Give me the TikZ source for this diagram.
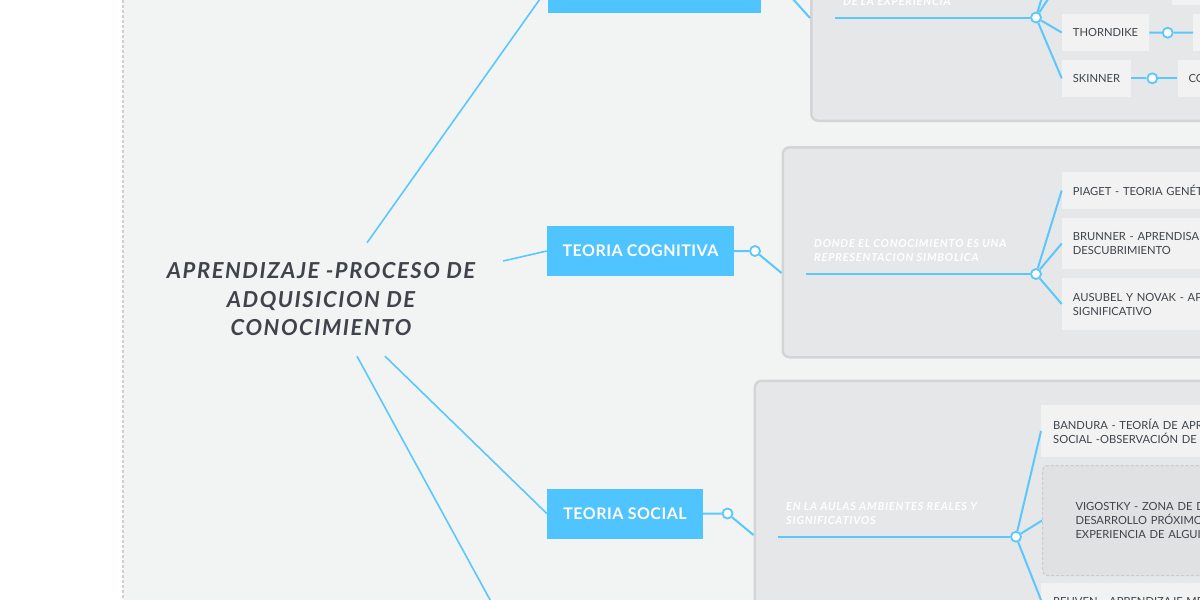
\documentclass[tikz,border=0pt]{standalone}
\usepackage{fontspec}
\setmainfont{Lato}
\newfontfamily\ideafont[LetterSpace=7]{Lato}
\newfontfamily\notefont[LetterSpace=7]{Lato}
\newfontfamily\topicfont[LetterSpace=3]{Lato}
\usepackage{xcolor}
\usepackage{tikz}
\usetikzlibrary{positioning,calc}

\definecolor{canvasbg}{HTML}{F2F4F4}
\definecolor{panelbg}{HTML}{E6E7E9}
\definecolor{panelrim}{HTML}{D2D4D6}
\definecolor{leafbg}{HTML}{F2F2F2}
\definecolor{topicblue}{HTML}{50C4FF}
\definecolor{linkblue}{HTML}{5AC8FC}
\definecolor{inktext}{HTML}{3E444A}
\definecolor{dashrim}{HTML}{C9CBCD}
\definecolor{vigbg}{HTML}{DFE1E3}
\definecolor{sheetrim}{HTML}{CDCFD0}

\tikzset{
  idea/.style={text=inktext, font=\ideafont\bfseries\itshape\fontsize{22}{28.5}\selectfont,
    align=center, minimum width=364pt, minimum height=113pt, inner sep=0pt},
  topic/.style={fill=topicblue, text=white, font=\topicfont\bfseries\fontsize{16}{18}\selectfont,
    minimum height=50pt, inner sep=0pt},
  panel/.style={fill=panelbg, draw=panelrim, line width=2.5pt, rounded corners=7pt},
  leaf/.style={fill=leafbg, text=inktext, font=\fontsize{11.2}{14}\selectfont,
    anchor=west, align=left, inner xsep=11pt, inner ysep=0pt, minimum height=37pt},
  dashleaf/.style={leaf, fill=vigbg, draw=dashrim, dash pattern=on 3pt off 2pt,
    line width=1pt, rounded corners=5pt, inner xsep=33pt, minimum height=110pt},
  note/.style={text=white, font=\notefont\bfseries\itshape\fontsize{11}{14}\selectfont,
    anchor=west, align=left, inner sep=0pt},
  knot/.style={circle, draw=linkblue, fill=white, line width=1.8pt, inner sep=0pt, minimum size=10pt},
  link/.style={draw=linkblue, line width=2pt},
  mainlink/.style={draw=linkblue, line width=1.6pt}
}

\begin{document}
\begin{tikzpicture}[x=1pt,y=-1pt]
  \useasboundingbox (0,0) rectangle (1200,600);
  \clip (0,0) rectangle (1200,600);

  % Sheet
  \fill[white] (0,0) rectangle (123,600);
  \fill[canvasbg] (123,0) rectangle (1200,600);
  \draw[sheetrim, line width=1.5pt, dash pattern=on 3pt off 2pt] (123,0) -- (123,600);

  % Central idea
  \node[idea] (idea) at (321,299.5) {APRENDIZAJE -PROCESO DE\\ADQUISICION DE\\CONOCIMIENTO};

  % Main topics
  \node[topic, minimum width=213pt] (tConduct) at (654.5,-12) {};
  \node[topic, minimum width=187pt] (tCog) at (640.5,251) {TEORIA COGNITIVA};
  \node[topic, minimum width=156pt] (tSoc) at (625,513.5) {TEORIA SOCIAL};
  \coordinate (tLow) at (548,706);

  \draw[mainlink] ($(idea.north)+(46,0)$) -- (tConduct.west);
  \draw[mainlink] ($(idea.east)+(0,-38.5)$) -- (tCog.west);
  \draw[mainlink] ($(idea.south)+(64,0)$) -- (tSoc.west);
  \draw[mainlink] ($(idea.south)+(36,0)$) -- (tLow);

  % Panels
  \node[panel, anchor=south west, minimum width=460pt, minimum height=200pt] (pnlA) at (810,122) {};
  \node[panel, anchor=north west, minimum width=460pt, minimum height=210pt] (pnlB) at (781.5,146) {};
  \node[panel, anchor=north west, minimum width=480pt, minimum height=300pt] (pnlC) at (753.5,379.5) {};

  \coordinate (inA) at (810,18);
  \coordinate (inB) at (781.5,273);
  \coordinate (inC) at (753.5,535);

  % Topic knots
  \node[knot] (kConduct) at (783,-12) {};
  \node[knot] (kCog) at (755,251) {};
  \node[knot] (kSoc) at (727.5,513.5) {};

  \draw[link] (tConduct) -- (kConduct) -- (inA);
  \draw[link] (tCog) -- (kCog) -- (inB);
  \draw[link] (tSoc) -- (kSoc) -- (inC);

  % Panel notes
  \node[note] (noteA) at (843,2) {DE LA EXPERIENCIA};
  \node[note] (noteB) at (814,251) {DONDE EL CONOCIMIENTO ES UNA\\REPRESENTACION SIMBOLICA};
  \node[note] (noteC) at (786,513.7) {EN LA AULAS AMBIENTES REALES Y\\SIGNIFICATIVOS};

  \coordinate (sA) at (835,17.5);
  \coordinate (sB) at (806,274);
  \coordinate (sC) at (778,536.7);

  % Panel A leaves
  \node[leaf] (thorndike) at (1061.7,32.5) {THORNDIKE};
  \node[leaf] (skinner) at (1061.7,78.3) {SKINNER};
  \node[leaf, minimum width=60pt] (upNext) at (1172,-13.5) {};
  \node[leaf, minimum width=60pt] (thornNext) at (1193,32.5) {};
  \node[leaf, text width=80pt] (skinNext) at (1177.3,78.3) {CO};
  \node[knot] (kThorn) at (1167.7,32.7) {};
  \node[knot] (kSkin) at (1152.3,78.3) {};
  \coordinate (upA1) at (1061.7,-22);
  \coordinate (upA2) at (1061.7,-70);

  \node[knot] (kA) at (1036,17.5) {};
  \draw[link] (sA) -- (kA);
  \foreach \lf in {thorndike,skinner} \draw[link] (kA) -- (\lf.west);
  \foreach \up in {upA1,upA2} \draw[link] (kA) -- (\up);
  \draw[link] (thorndike) -- (kThorn) -- (thornNext);
  \draw[link] (skinner) -- (kSkin) -- (skinNext);

  % Panel B leaves
  \node[leaf, text width=200pt] (piaget) at (1061.7,190.5) {PIAGET - TEORIA GENÉT};
  \node[leaf, text width=200pt, minimum height=51pt] (brunner) at (1061.7,243.5) {BRUNNER - APRENDISA\\DESCUBRIMIENTO};
  \node[leaf, text width=200pt, minimum height=52pt] (ausubel) at (1061.7,304) {AUSUBEL Y NOVAK - AP\\SIGNIFICATIVO};

  \node[knot] (kB) at (1036,274) {};
  \draw[link] (sB) -- (kB);
  \foreach \lf in {piaget,brunner,ausubel} \draw[link] (kB) -- (\lf.west);

  % Panel C leaves
  \node[leaf, text width=200pt, minimum height=52pt, inner xsep=12pt] (bandura) at (1041,431) {BANDURA - TEORÍA DE APR\\SOCIAL -OBSERVACIÓN DE};
  \node[dashleaf, text width=200pt] (vigostky) at (1042,520.5) {VIGOSTKY - ZONA DE D\\DESARROLLO PRÓXIMO\\EXPERIENCIA DE ALGUI};
  \node[leaf, anchor=north west, text width=200pt, minimum height=0pt, inner xsep=12pt, inner ysep=14.5pt] (reuven) at (1041,583) {REUVEN - APRENDIZAJE ME};

  \node[knot] (kC) at (1016,536.7) {};
  \draw[link] (sC) -- (kC);
  \draw[link] (kC) -- (bandura.west);
  \draw[link] (kC) -- (vigostky.west);
  \draw[link] (kC) -- ($(reuven.north west)+(0,17)$);
\end{tikzpicture}
\end{document}
